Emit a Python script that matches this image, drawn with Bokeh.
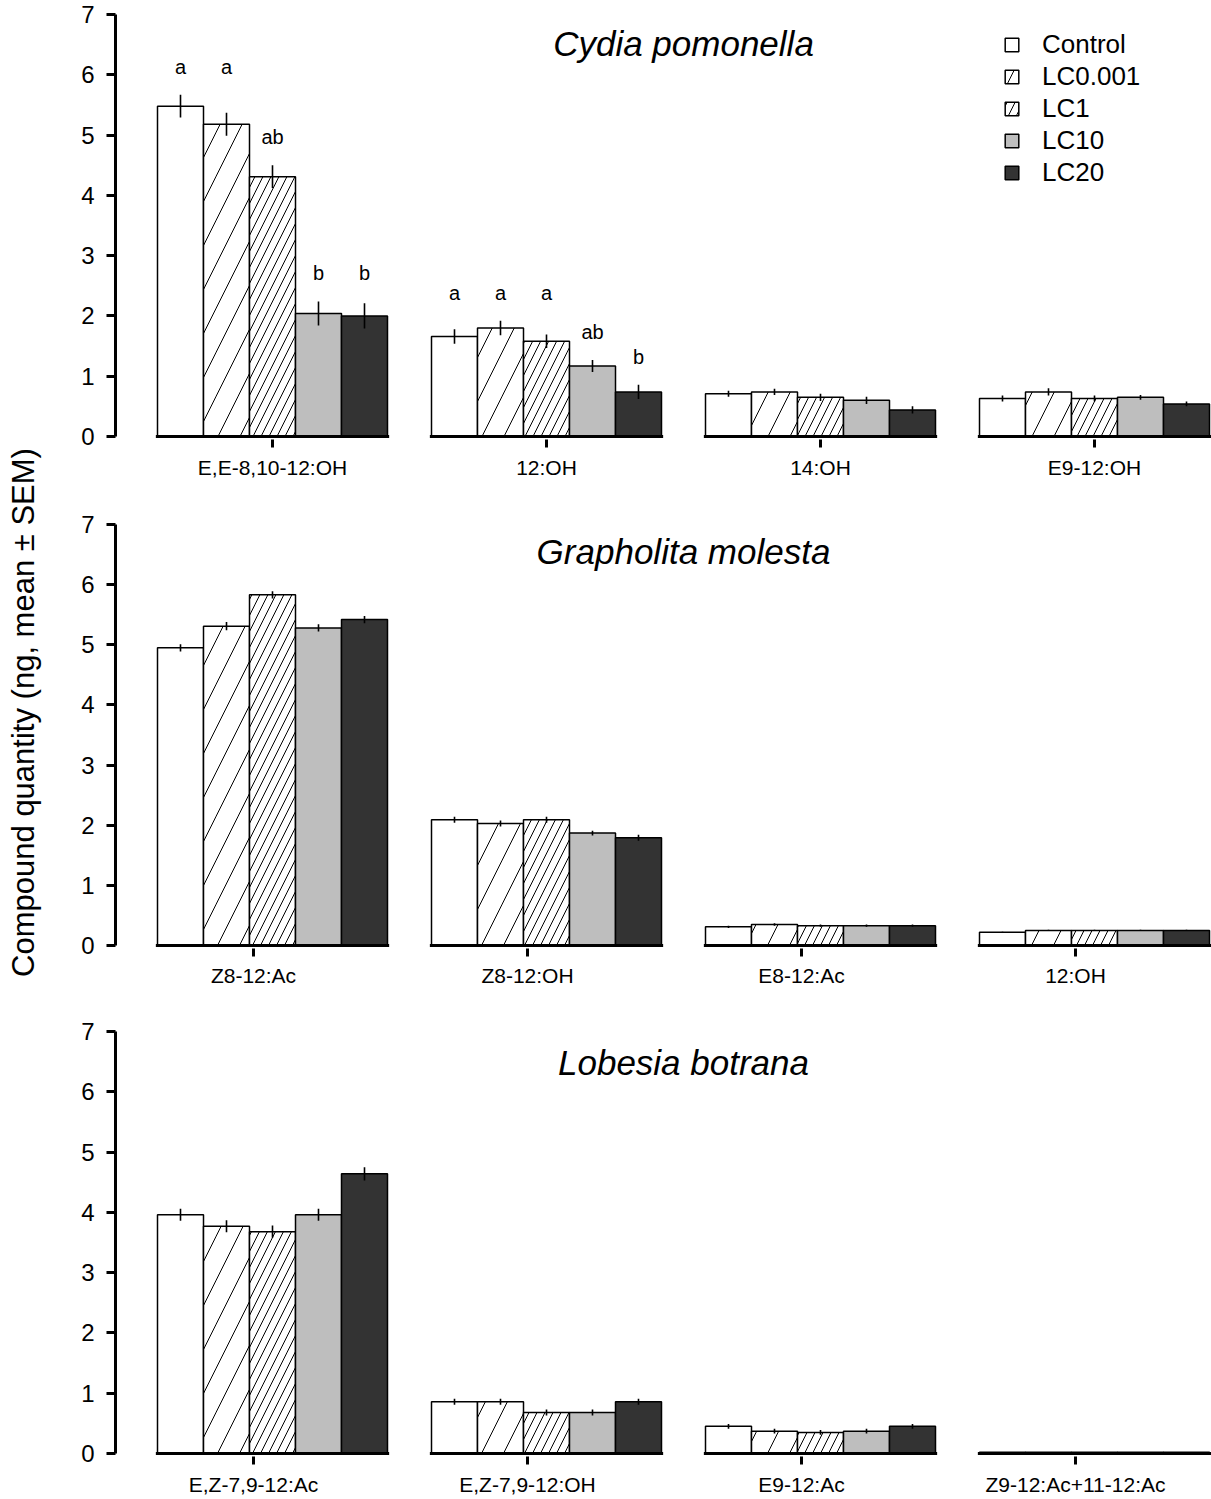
import math
from bokeh.plotting import figure
from bokeh.layouts import row, column
from bokeh.models import (Range1d, FixedTicker, CustomJSTickFormatter, Legend,
                          LegendItem, ColumnDataSource)
from bokeh.embed import file_html
from bokeh.resources import INLINE
from bokeh.core.properties import value

# ---------------- data ----------------
treatments = ["Control", "LC0.001", "LC1", "LC10", "LC20"]

cp_title = "Cydia pomonella"
cp_compounds = ["E,E-8,10-12:OH", "12:OH", "14:OH", "E9-12:OH"]
cp_mean = [
    [5.48, 1.66, 0.71, 0.63],   # Control
    [5.18, 1.80, 0.74, 0.74],   # LC0.001
    [4.31, 1.58, 0.65, 0.63],   # LC1
    [2.04, 1.17, 0.60, 0.65],   # LC10
    [2.00, 0.74, 0.44, 0.54],   # LC20
]
cp_sem = [
    [0.19, 0.12, 0.05, 0.05],
    [0.19, 0.12, 0.05, 0.06],
    [0.19, 0.11, 0.06, 0.05],
    [0.20, 0.10, 0.06, 0.04],
    [0.21, 0.12, 0.06, 0.04],
]
cp_letters = [
    ["a", "a", "", ""],
    ["a", "a", "", ""],
    ["ab", "a", "", ""],
    ["b", "ab", "", ""],
    ["b", "b", "", ""],
]

gm_title = "Grapholita molesta"
gm_compounds = ["Z8-12:Ac", "Z8-12:OH", "E8-12:Ac", "12:OH"]
gm_mean = [
    [4.95, 2.09, 0.31, 0.22],
    [5.31, 2.03, 0.35, 0.25],
    [5.83, 2.09, 0.33, 0.25],
    [5.28, 1.87, 0.33, 0.25],
    [5.42, 1.79, 0.33, 0.25],
]
gm_sem = [
    [0.06, 0.05, 0.02, 0.01],
    [0.07, 0.05, 0.02, 0.01],
    [0.06, 0.05, 0.02, 0.01],
    [0.06, 0.04, 0.02, 0.01],
    [0.06, 0.05, 0.02, 0.01],
]

lb_title = "Lobesia botrana"
lb_compounds = ["E,Z-7,9-12:Ac", "E,Z-7,9-12:OH", "E9-12:Ac", "Z9-12:Ac+11-12:Ac"]
lb_mean = [
    [3.96, 0.86, 0.45, 0.02],
    [3.77, 0.86, 0.37, 0.02],
    [3.68, 0.68, 0.35, 0.02],
    [3.96, 0.68, 0.37, 0.02],
    [4.64, 0.86, 0.45, 0.02],
]
lb_sem = [
    [0.10, 0.05, 0.04, 0.0],
    [0.10, 0.05, 0.04, 0.0],
    [0.10, 0.05, 0.04, 0.0],
    [0.10, 0.05, 0.04, 0.0],
    [0.11, 0.05, 0.04, 0.0],
]

y_title = "Compound quantity (ng, mean \u00b1 SEM)"
y_ticks = [0, 1, 2, 3, 4, 5, 6, 7]

# ---------------- styles ----------------
FONT = "Liberation Sans"
fills = ["white", "white", "white", "#bebebe", "#333333"]
hatch_patterns = [" ", "/", "/", " ", " "]
hatch_scales = [12, 44, 16, 12, 12]

GROUP_PX = 274.0          # pixel distance between compound groups
BAR_PX = 46.0             # pixel width of one bar
BW = BAR_PX / GROUP_PX    # bar width in data units
LAB_W = 50
PANEL_W = 1161
FRAME_LEFT = 65           # y axis position inside panel figure
X_START = -(157 - LAB_W - FRAME_LEFT) / GROUP_PX - 2.5 * BW
X_END = X_START + (PANEL_W - FRAME_LEFT) / GROUP_PX


def make_panel(title, compounds, mean, sem, letters, tick_shift,
               fig_top, fig_h, y7_px, y0_px, standoff, title_y, legend=False):
    ppu = (y0_px - y7_px) / 7.0
    frame_bottom = y0_px + 3
    frame_h = frame_bottom - y7_px
    p = figure(width=PANEL_W, height=fig_h, output_backend="svg",
               toolbar_location=None,
               x_range=Range1d(X_START, X_END),
               y_range=Range1d(7 - frame_h / ppu, 7),
               min_border_top=y7_px - fig_top,
               min_border_bottom=fig_top + fig_h - frame_bottom,
               min_border_left=FRAME_LEFT, min_border_right=0)
    p.outline_line_color = None
    p.grid.visible = False
    p.background_fill_color = "white"
    p.border_fill_color = "white"

    groups = list(range(len(compounds)))
    renderers = []
    for i, t in enumerate(treatments):
        xs = [g + (i - 2) * BW for g in groups]
        src = ColumnDataSource(dict(x=xs, top=mean[i],
                                    lo=[m - s for m, s in zip(mean[i], sem[i])],
                                    hi=[m + s for m, s in zip(mean[i], sem[i])]))
        r = p.vbar(x="x", top="top", bottom=0, width=BW, source=src,
                   fill_color=fills[i], line_color="black", line_width=1.5,
                   hatch_pattern=hatch_patterns[i], hatch_scale=hatch_scales[i],
                   hatch_color="black", hatch_weight=1)
        renderers.append(r)
        p.segment(x0="x", y0="lo", x1="x", y1="hi", source=src,
                  line_color="black", line_width=1.6)

    # group baselines
    p.segment(x0=[g - 2.5 * BW - 0.006 for g in groups], y0=[0] * len(groups),
              x1=[g + 2.5 * BW + 0.006 for g in groups], y1=[0] * len(groups),
              line_color="black", line_width=3)

    # significance letters
    if letters is not None:
        lx, ly, lt = [], [], []
        for g in groups:
            for i in range(len(treatments)):
                L = letters[i][g]
                if not L:
                    continue
                top = max(mean[j][g] + sem[j][g] for j in range(len(treatments))
                          if letters[j][g] == L)
                lx.append(g + (i - 2) * BW)
                ly.append(top + 28.0 / ppu)
                lt.append(L)
        p.text(x=lx, y=ly, text=lt, text_align="center", text_baseline="middle",
               text_font=value(FONT), text_font_size="20px", text_color="black")

    # panel title (species)
    p.text(x=[(groups[0] + groups[-1]) / 2.0], y=[title_y], text=[title],
           text_align="center", text_baseline="alphabetic",
           text_font=value(FONT), text_font_style="italic",
           text_font_size="35px", text_color="black")

    # y axis
    ya = p.yaxis[0]
    ya.ticker = FixedTicker(ticks=y_ticks)
    ya.bounds = (0, 7)
    ya.axis_line_width = 3
    ya.major_tick_line_width = 3
    ya.major_tick_out = 9
    ya.major_tick_in = 0
    ya.minor_tick_line_color = None
    ya.major_label_standoff = 12
    ya.major_label_text_font = FONT
    ya.major_label_text_font_size = "24px"
    ya.major_label_text_color = "black"

    # x axis
    xa = p.xaxis[0]
    xa.ticker = FixedTicker(ticks=[g + tick_shift for g in groups])
    xa.formatter = CustomJSTickFormatter(args=dict(labels=compounds),
                                         code="return labels[index];")
    xa.axis_line_color = None
    xa.major_tick_line_width = 3
    xa.major_tick_out = 8
    xa.major_tick_in = 0
    xa.minor_tick_line_color = None
    xa.major_label_standoff = standoff
    xa.major_label_text_font = FONT
    xa.major_label_text_font_size = "21px"
    xa.major_label_text_color = "black"

    if legend:
        items = [LegendItem(label=t, renderers=[r]) for t, r in zip(treatments, renderers)]
        lg = Legend(items=items, location=(1003 - 115, frame_bottom - 188),
                    orientation="vertical", glyph_width=17, glyph_height=17,
                    label_standoff=22, spacing=1, padding=0, margin=0,
                    border_line_color=None, background_fill_alpha=0,
                    label_text_font=FONT, label_text_font_size="26px",
                    label_text_color="black")
        p.add_layout(lg)
    return p


p1 = make_panel(cp_title, cp_compounds, cp_mean, cp_sem, cp_letters, 0.0,
                0, 508, 14, 436, 8, 6.52, legend=True)
p2 = make_panel(gm_title, gm_compounds, gm_mean, gm_sem, None, -19.0 / GROUP_PX,
                508, 508, 524, 945, 7, 6.55)
p3 = make_panel(lb_title, lb_compounds, lb_mean, lb_sem, None, -19.0 / GROUP_PX,
                1016, 483, 1031, 1453, 8, 6.49)

TOTAL_H = 508 + 508 + 483
lab = figure(width=LAB_W, height=TOTAL_H, output_backend="svg", toolbar_location=None,
             x_range=Range1d(0, LAB_W), y_range=Range1d(0, TOTAL_H),
             min_border=0)
lab.axis.visible = False
lab.grid.visible = False
lab.outline_line_color = None
lab.text(x=[23], y=[TOTAL_H - 712], text=[y_title], angle=math.pi / 2,
         text_align="center", text_baseline="alphabetic",
         text_font=value(FONT), text_font_size="31px", text_color="black")

layout = row(lab, column(p1, p2, p3, spacing=0), spacing=0)

open("out.html", "w").write(file_html(layout, INLINE))
